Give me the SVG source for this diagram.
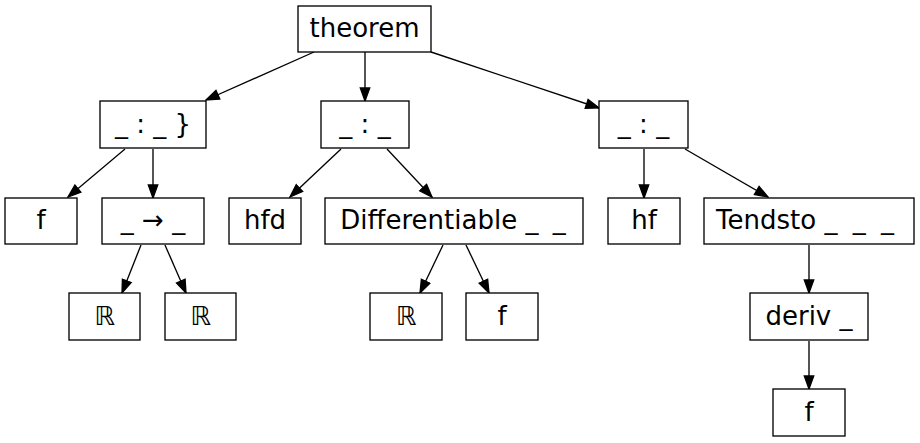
<svg xmlns="http://www.w3.org/2000/svg" width="920" height="443" viewBox="0 0 920 443">
<style>
.n rect{fill:#fff;stroke:#000;stroke-width:1.33}
.n text{font-family:"DejaVu Sans",sans-serif;font-size:26px;text-anchor:middle;fill:#000}
.e line{stroke:#000;stroke-width:1.33;marker-end:url(#ah)}
</style>
<defs>
<marker id="ah" markerUnits="userSpaceOnUse" markerWidth="15" markerHeight="12" refX="13" refY="5" orient="auto" viewBox="-1 0 15 10">
<path d="M0,0.3 L13,5 L0,9.7 z" fill="#000" stroke="#000" stroke-width="1.33"/>
</marker>
</defs>
<rect width="920" height="443" fill="#fff"/>
<g class="e" id="edges">
<line x1="314" y1="52" x2="206" y2="100"/>
<line x1="365" y1="52" x2="365" y2="101"/>
<line x1="431" y1="52" x2="599" y2="108"/>
<line x1="125" y1="149" x2="68" y2="197"/>
<line x1="153" y1="149" x2="153" y2="198"/>
<line x1="341" y1="149" x2="290" y2="197"/>
<line x1="387" y1="149" x2="432" y2="197"/>
<line x1="644" y1="149" x2="644" y2="198"/>
<line x1="685" y1="149" x2="768" y2="197"/>
<line x1="141" y1="245" x2="122" y2="293"/>
<line x1="165" y1="245" x2="186" y2="293"/>
<line x1="443" y1="245" x2="420" y2="293"/>
<line x1="466" y1="245" x2="489" y2="293"/>
<line x1="809" y1="245" x2="809" y2="293"/>
<line x1="809" y1="341" x2="809" y2="389"/>
</g>
<g class="n" id="n_theorem"><rect x="298" y="6" width="133" height="46"/><text x="364.5" y="36.8">theorem</text></g>
<g class="n" id="n_colon1"><rect x="100" y="101" width="106" height="47"/><text x="153" y="132.5">_ : _ }</text></g>
<g class="n" id="n_colon2"><rect x="321" y="101" width="88" height="47"/><text x="365" y="132.5">_ : _</text></g>
<g class="n" id="n_colon3"><rect x="599" y="101" width="89" height="47"/><text x="643.5" y="132.5">_ : _</text></g>
<g class="n" id="n_f1"><rect x="5" y="198" width="72" height="46"/><text x="41" y="229">f</text></g>
<g class="n" id="n_arrow"><rect x="102" y="198" width="102" height="46"/><text x="153" y="229">_ → _</text></g>
<g class="n" id="n_hfd"><rect x="229" y="198" width="72" height="46"/><text x="265" y="229">hfd</text></g>
<g class="n" id="n_diff"><rect x="325" y="198" width="258" height="46"/><text x="453" y="229">Differentiable _ <tspan dx="6">_</tspan></text></g>
<g class="n" id="n_hf"><rect x="608" y="198" width="72" height="46"/><text x="644" y="229">hf</text></g>
<g class="n" id="n_tendsto"><rect x="704" y="198" width="210" height="46"/><text x="805" y="229">Tendsto _ <tspan dx="7">_</tspan> <tspan dx="7">_</tspan></text></g>
<g class="n" id="n_R1"><rect x="69" y="293" width="71" height="47"/><text x="104.5" y="324.5">ℝ</text></g>
<g class="n" id="n_R2"><rect x="165" y="293" width="71" height="47"/><text x="200.5" y="324.5">ℝ</text></g>
<g class="n" id="n_R3"><rect x="370" y="293" width="72" height="47"/><text x="406" y="324.5">ℝ</text></g>
<g class="n" id="n_f2"><rect x="466" y="293" width="72" height="47"/><text x="502" y="324.5">f</text></g>
<g class="n" id="n_deriv"><rect x="750" y="293" width="118" height="47"/><text x="809" y="324.5">deriv _</text></g>
<g class="n" id="n_f3"><rect x="773" y="389" width="72" height="47"/><text x="809" y="420.5">f</text></g>
</svg>
